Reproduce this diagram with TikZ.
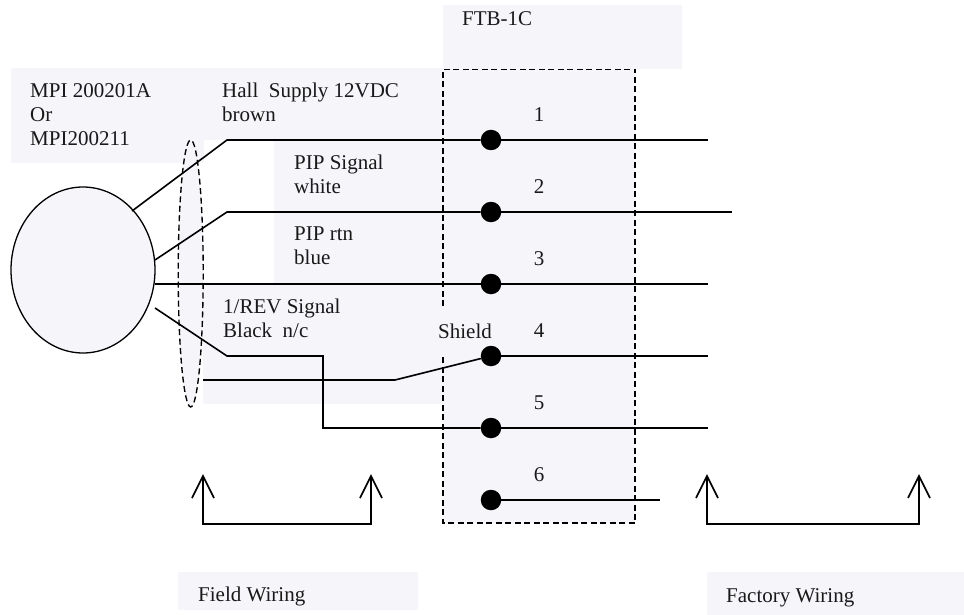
\documentclass[tikz,border=0pt]{standalone}
\usepackage{fontspec}
\usetikzlibrary{shapes.geometric}
\setmainfont{Liberation Serif}
\definecolor{tint}{HTML}{F5F5FA}
\tikzset{
  x=1pt,y=-1pt,
  panel/.style={fill=tint,draw=none},
  wire/.style={draw=black,line width=1.6pt,line join=miter},
  thinwire/.style={draw=black,line width=1.1pt},
  dashline/.style={draw=black,line width=1.35pt,dash pattern=on 6pt off 3.5pt},
  term/.style={circle,fill=black,draw=none,minimum size=20.5pt,inner sep=0pt},
  lab/.style={anchor=north west,inner sep=0pt,font=\fontsize{21pt}{24pt}\selectfont,align=left,text=black!90},
  num/.style={anchor=center,inner sep=0pt,font=\fontsize{21pt}{24pt}\selectfont,text=black!90},
  brk/.style={draw=black,line width=1.6pt},
}
\begin{document}
\begin{tikzpicture}
\useasboundingbox (0,0) rectangle (964,615);
% panels
\fill[panel] (11,68) rectangle (443,140);
\fill[panel] (11,140) rectangle (204,163);
\fill[panel] (274,140) rectangle (443,283);
\fill[panel] (203,283) rectangle (443,404);
\fill[panel] (443,69) rectangle (635,523);
\fill[panel] (178,572) rectangle (418,610);
\fill[panel] (707,572) rectangle (964,615);
% motor
\node[ellipse,draw=black,fill=tint,line width=1.3pt,minimum width=144pt,minimum height=166pt,inner sep=0pt] (motor) at (83,270) {};
% terminals
\foreach \n/\y in {1/140,2/212,3/284,4/356,5/428,6/500}{
  \node[term] (t\n) at (491,\y) {};
}
% free ends
\coordinate (e1) at (708,140);
\coordinate (e2) at (732,212);
\coordinate (e3) at (708,284);
\coordinate (e4) at (708,356);
\coordinate (e5) at (708,428);
\coordinate (e6) at (660,500);
\coordinate (m1) at (132,211);
\coordinate (m2) at (155,260);
\coordinate (m3) at (155,284);
\coordinate (m4) at (155,308);
\coordinate (k1) at (227,140);
\coordinate (k2) at (227,212);
\coordinate (k4a) at (227,356);
\coordinate (k4b) at (323,356);
\coordinate (k4c) at (323,428);
\coordinate (s0) at (203,380);
\coordinate (s1) at (395,380);
% shield ellipse
\draw[dashline,fill=tint] (190.7,273.5) ellipse [x radius=12.5,y radius=133.5];
% box outline
\draw[dashline] (443,306) -- (443,69) -- (635,69) -- (635,523) -- (443,523) -- (443,357);
\fill[panel] (443,5) rectangle (682,69);
% wires
\draw[wire] (m1) -- (k1) -- (t1);
\draw[wire] (m2) -- (k2) -- (t2);
\draw[wire] (m3) -- (t3);
\draw[wire] (m4) -- (k4a) -- (k4b) -- (k4c) -- (t5);
\draw[wire] (s0) -- (s1) -- (t4);
\draw[thinwire] (t1) -- (e1);
\draw[thinwire] (t2) -- (e2);
\draw[thinwire] (t3) -- (e3);
\draw[thinwire] (t4) -- (e4);
\draw[thinwire] (t5) -- (e5);
\draw[thinwire] (t6) -- (e6);
\foreach \n/\x in {1/588,3/611,4/588,5/588}{
  \draw[wire] (t\n) -- ++(24,0);
  \draw[wire] (e\n) -- (\x,0 |- e\n);
}
\draw[wire] (t2) -- ++(24,0);
\draw[wire] (t6) -- ++(24,0);
% brackets
\coordinate (b1) at (203,476);
\coordinate (b2) at (371,476);
\coordinate (b3) at (707,476);
\coordinate (b4) at (919,476);
\draw[brk] (b1) -- ++(0,48) -| (b2);
\draw[brk] (b1) ++(-11,22) -- (b1) -- ++(11,22);
\draw[brk] (b2) ++(-11,22) -- (b2) -- ++(11,22);
\draw[brk] (b3) -- ++(0,48) -| (b4);
\draw[brk] (b3) ++(-11,22) -- (b3) -- ++(11,22);
\draw[brk] (b4) ++(-11,22) -- (b4) -- ++(11,22);
% labels
\node[lab] (l1) at (30,83) {MPI 200201A\\Or\\MPI200211};
\node[lab] (l2) at (222,83) {Hall\ \ Supply 12VDC\\brown};
\node[lab] (l3) at (294,155) {PIP Signal\\white};
\node[lab] (l4) at (294,227) {PIP rtn\\blue};
\node[lab] (l5) at (223,298.5) {1/REV Signal\\Black\ \ n/c};
\node[lab] (l6) at (438,324) {Shield};
\node[lab] (l7) at (462,11) {FTB-1C};
\node[lab] (l8) at (198,587) {Field Wiring};
\node[lab] (l9) at (726,588) {Factory Wiring};
\node[num] (n1) at (539,114.5) {1};
\node[num] (n2) at (539,186.5) {2};
\node[num] (n3) at (539,258.5) {3};
\node[num] (n4) at (539,330.5) {4};
\node[num] (n5) at (539,402.5) {5};
\node[num] (n6) at (539,474.5) {6};
\end{tikzpicture}
\end{document}
